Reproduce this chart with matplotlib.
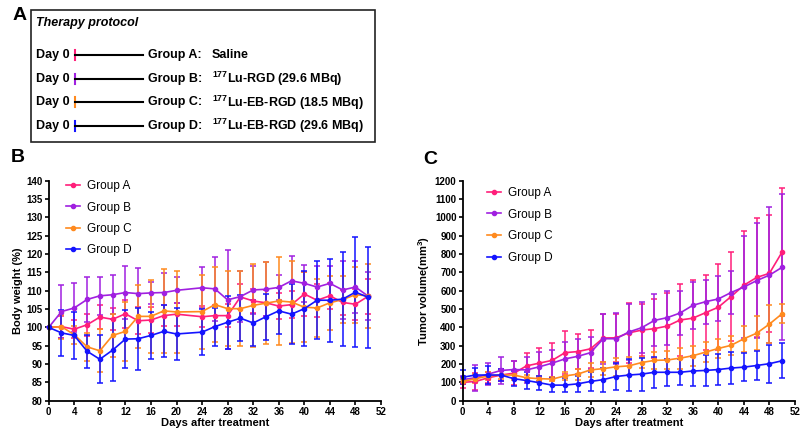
import numpy as np
import matplotlib
matplotlib.use("Agg")
import matplotlib.pyplot as plt

plt.rcParams['font.family'] = ['Liberation Sans', 'DejaVu Sans']
plt.rcParams['mathtext.fontset'] = 'custom'
plt.rcParams['mathtext.rm'] = 'Liberation Sans'
plt.rcParams['mathtext.bf'] = 'Liberation Sans:bold'

groups = ["Group A", "Group B", "Group C", "Group D"]
colors = ["#FF1F7A", "#A020E0", "#FF8A1E", "#1414FF"]
treatments = ["Saline", r"$\mathbf{^{177}}$Lu-RGD (29.6 MBq)",
              r"$\mathbf{^{177}}$Lu-EB-RGD (18.5 MBq)", r"$\mathbf{^{177}}$Lu-EB-RGD (29.6 MBq)"]

# body weight (%)
days_bw = [0, 2, 4, 6, 8, 10, 12, 14, 16, 18, 20, 24, 26, 28, 30, 32, 34, 36, 38, 40, 42, 44, 46, 48, 50]
bw_a = [100, 100.2, 99.5, 100.7, 102.8, 102.2, 103.7, 101.8, 102, 103.2, 103.6, 102.9, 103.2, 103.2,
        108.3, 107.2, 106.7, 105.8, 106.2, 109.1, 107.4, 108.6, 106.8, 106.3, 108.5]
bw_a_sd = [0, 3, 2.5, 3, 3.2, 3, 3.8, 3.7, 3.5, 2.8, 3.1, 2.8, 3, 3.2, 3.4, 3.3, 3.5, 3.5, 3.7, 6,
           4.5, 3.5, 3.5, 4.2, 4.8]
bw_b = [100, 104.3, 105.3, 107.6, 108.6, 108.9, 109.5, 109.2, 109.4, 109.5, 110.1, 110.8, 110.5, 107.5,
        108.4, 110.2, 110.4, 110.9, 112.7, 112, 111, 112, 110.2, 111, 108.5]
bw_b_sd = [0, 7.2, 6.7, 6.2, 5.2, 5.3, 7.3, 7, 3.1, 5.3, 3.5, 5.6, 8.7, 13.5, 7, 6.6, 7.3, 3.4, 6.7,
           5.1, 5.8, 4.8, 8, 7, 6.5]
bw_c = [100, 100.2, 98, 94.7, 93.6, 97.8, 98.9, 103, 103, 104.5, 104.2, 104.3, 106.2, 105.1, 105.1,
        106, 106.6, 107.2, 106.9, 105.5, 105.3, 106.7, 107.6, 108.9, 108.6]
bw_c_sd = [0, 3.3, 2.5, 3.8, 5.9, 5.9, 8.1, 8.6, 10, 11.5, 11.2, 10.1, 10.3, 10.2, 10.3, 11.4, 11.2,
           12, 11.1, 9.5, 8, 7.3, 6.3, 7.6, 8.7]
bw_d = [100, 98.5, 97.8, 93.5, 91.3, 93.8, 96.8, 96.9, 97.8, 98.9, 98.2, 98.7, 100.2, 101.4, 102.5,
        101.2, 102.9, 104.5, 103.6, 105.1, 107.4, 107.4, 107.7, 109.6, 108.2]
bw_d_sd = [0, 6.3, 6.3, 4.5, 6.5, 8.4, 7.8, 8.5, 6.5, 7.1, 7, 6.3, 5.2, 7.2, 6.2, 6.2, 6.3, 6.3, 8.1,
           10.2, 10.7, 11.3, 12.8, 15, 13.8]

# tumor volume (mm3)
days_tv = list(range(0, 52, 2))
tv_a = [100, 105, 125, 140, 150, 190, 205, 220, 262, 268, 283, 342, 343, 370, 385, 393, 407, 440, 450,
        480, 510, 568, 630, 672, 695, 812]
tv_a_sd = [30, 45, 30, 35, 65, 68, 83, 92, 116, 94, 105, 130, 132, 163, 140, 162, 183, 195, 210, 205,
           235, 244, 298, 323, 320, 348]
tv_b = [115, 125, 145, 165, 170, 168, 185, 205, 228, 242, 262, 338, 338, 375, 398, 438, 453, 478, 520,
        540, 555, 590, 620, 655, 685, 728]
tv_b_sd = [20, 70, 60, 75, 45, 72, 80, 73, 94, 96, 88, 137, 140, 155, 140, 142, 147, 120, 130, 120,
           123, 115, 280, 315, 373, 397]
tv_c = [105, 120, 135, 140, 140, 125, 120, 118, 135, 145, 168, 175, 185, 190, 208, 220, 222, 232, 245,
        265, 285, 302, 338, 368, 418, 475]
tv_c_sd = [15, 25, 20, 20, 25, 15, 15, 12, 20, 30, 37, 35, 50, 50, 32, 45, 48, 58, 55, 53, 53, 53, 72,
           94, 102, 53]
tv_d = [128, 140, 140, 140, 120, 110, 98, 85, 85, 92, 105, 115, 132, 140, 145, 155, 155, 155, 162, 165,
        170, 178, 183, 192, 202, 218]
tv_d_sd = [38, 40, 50, 35, 40, 45, 38, 40, 40, 44, 50, 65, 72, 85, 90, 83, 75, 70, 80, 83, 85, 88, 78,
           80, 104, 96]

fig = plt.figure(figsize=(8, 4.32), dpi=100)

# panel A - protocol box drawn in pixel space
axA = fig.add_axes([0, 0, 1, 1])
axA.set_xlim(0, 800)
axA.set_ylim(432, 0)
axA.axis('off')
axA.add_patch(plt.Rectangle((30.5, 10), 344.5, 132, fill=False, lw=1.2, ec='#222222'))
axA.text(13, 16, "A", fontsize=14, fontweight='bold', va='center')
axA.text(36.5, 23, "Therapy protocol", fontsize=9, fontweight='bold', style='italic', va='center')
for i, (g, t, c) in enumerate(zip(groups, treatments, colors)):
    y = 55 + i * 23.7
    axA.text(36.5, y, "Day 0", fontsize=9, fontweight='bold', va='center')
    axA.plot([75, 75], [y - 5, y + 5], color=c, lw=1.5)
    axA.plot([75, 143], [y, y], color='black', lw=1.5)
    axA.text(148, y, g + ":", fontsize=9, fontweight='bold', va='center')
    axA.text(212, y, t, fontsize=9, fontweight='bold', va='center')
axA.text(11, 158, "B", fontsize=14, fontweight='bold', va='center')
axA.text(423, 160, "C", fontsize=14, fontweight='bold', va='center')


def style(ax):
    for s in ['top', 'right']:
        ax.spines[s].set_visible(False)
    for s in ['left', 'bottom']:
        ax.spines[s].set_linewidth(1.3)
    ax.tick_params(width=1.2, length=3, labelsize=7, pad=1.5)
    for lab in ax.get_xticklabels() + ax.get_yticklabels():
        lab.set_fontweight('bold')
    ax.set_xlabel("Days after treatment", fontsize=8, fontweight='bold', labelpad=1)


def draw(ax, x, series, sds):
    hs = []
    for y, e, c in zip(series, sds, colors):
        cont = ax.errorbar(x, y, yerr=e, color=c, marker='o', ms=3, lw=1.2,
                           elinewidth=1.1, capsize=2.2, capthick=1.1, clip_on=False)
        hs.append(cont[0])
    return hs


axB = fig.add_axes([48.7 / 800, 31.3 / 432, 332.3 / 800, 220 / 432])
hB = draw(axB, days_bw, [bw_a, bw_b, bw_c, bw_d], [bw_a_sd, bw_b_sd, bw_c_sd, bw_d_sd])
axB.set_xlim(0, 52)
axB.set_ylim(80, 140)
axB.set_xticks(np.arange(0, 53, 4))
axB.set_yticks(np.arange(80, 141, 5))
axB.set_ylabel("Body weight (%)", fontsize=8, fontweight='bold', labelpad=2)
style(axB)
axB.legend(hB, groups, loc='upper left', bbox_to_anchor=(0.02, 1.05), frameon=False,
           fontsize=8.5, handlelength=1.2, handletextpad=0.6, labelspacing=0.78)

axC = fig.add_axes([462.7 / 800, 31.3 / 432, 332.3 / 800, 220 / 432])
hC = draw(axC, days_tv, [tv_a, tv_b, tv_c, tv_d], [tv_a_sd, tv_b_sd, tv_c_sd, tv_d_sd])
axC.set_xlim(0, 52)
axC.set_ylim(0, 1200)
axC.set_xticks(np.arange(0, 53, 4))
axC.set_yticks(np.arange(0, 1201, 100))
axC.set_ylabel(r"Tumor volume(mm$\mathbf{^3}$)", fontsize=8, fontweight='bold', labelpad=2)
style(axC)
axC.legend(hC, groups, loc='upper left', bbox_to_anchor=(0.04, 1.02), frameon=False,
           fontsize=8.5, handlelength=1.2, handletextpad=0.6, labelspacing=0.82)

fig.savefig("out.png", dpi=100)
